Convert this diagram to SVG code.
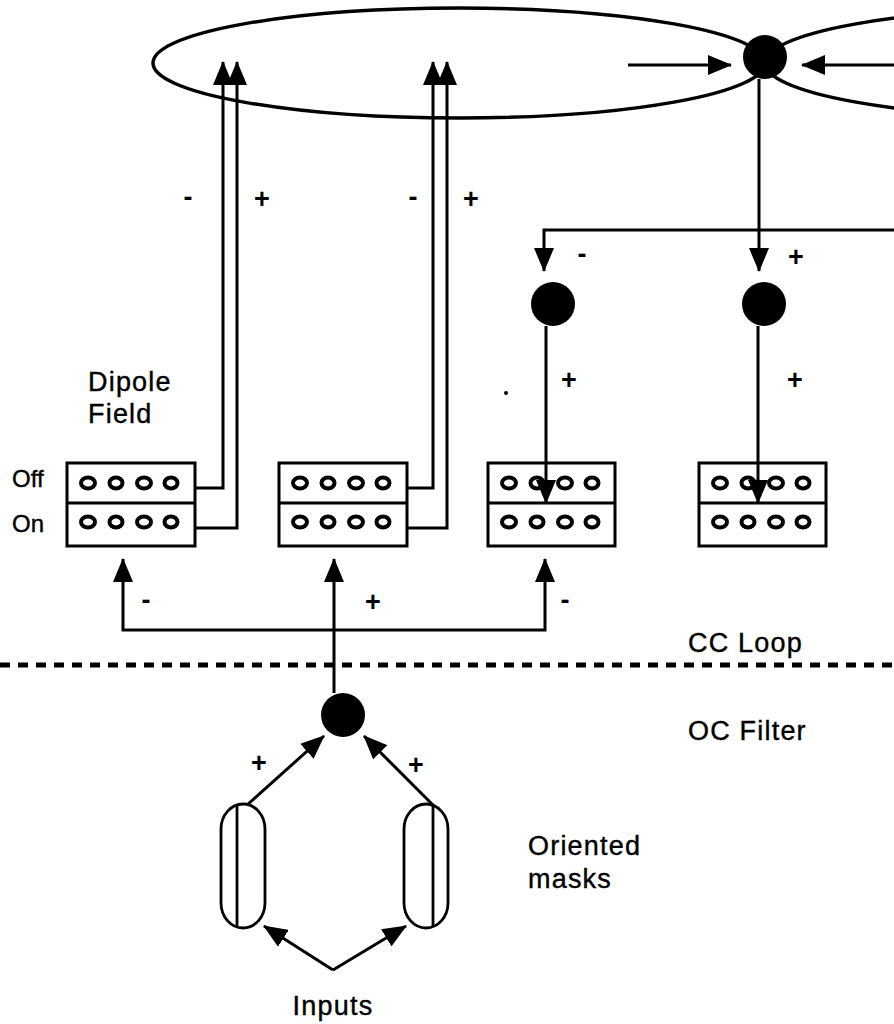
<svg xmlns="http://www.w3.org/2000/svg" width="894" height="1024" viewBox="0 0 894 1024">
<style>
.lbl{font-family:"Liberation Sans",Arial,sans-serif;font-size:27px;fill:#000;stroke:#000;stroke-width:0.4;letter-spacing:1.2px}
.sm{font-family:"Liberation Sans",Arial,sans-serif;font-size:24px;fill:#000;stroke:#000;stroke-width:0.4}
.sign{font-family:"Liberation Sans",Arial,sans-serif;font-size:27px;font-weight:bold;fill:#000;text-anchor:middle}
.box{fill:#fff;stroke:#000;stroke-width:3}
.cell{fill:#fff;stroke:#000;stroke-width:4}
.dot{fill:#000}
.ell{fill:none;stroke:#000;stroke-width:3.5}
.mask{fill:#fff;stroke:#000;stroke-width:2.8}
.ln{fill:none;stroke:#000;stroke-width:3}
.arr{fill:none;stroke:#000;stroke-width:3;marker-end:url(#ah)}
</style>
<defs>
<marker id="ah" markerUnits="userSpaceOnUse" markerWidth="24" markerHeight="20" refX="23" refY="10" orient="auto">
<path d="M0,0 L24,10 L0,20 z" fill="#000"/>
</marker>
<g id="cells">
<ellipse cx="21" cy="20" rx="7" ry="5.5" class="cell"/>
<ellipse cx="49" cy="20" rx="6.5" ry="5.5" class="cell"/>
<ellipse cx="77" cy="20" rx="7" ry="5.5" class="cell"/>
<ellipse cx="104" cy="20" rx="6.5" ry="5.5" class="cell"/>
<ellipse cx="21" cy="59" rx="7" ry="5.5" class="cell"/>
<ellipse cx="49" cy="59" rx="6.5" ry="5.5" class="cell"/>
<ellipse cx="77" cy="59" rx="7" ry="5.5" class="cell"/>
<ellipse cx="104" cy="59" rx="6.5" ry="5.5" class="cell"/>
</g>
</defs>
<rect width="894" height="1024" fill="#fff"/>

<g id="loops">
<ellipse cx="459" cy="63" rx="306" ry="55" class="ell"/>
<ellipse cx="1071" cy="63" rx="306" ry="55" class="ell"/>
</g>

<g id="node-top"><circle cx="765" cy="57" r="22" class="dot"/></g>
<g id="node-minus"><circle cx="553" cy="304" r="22" class="dot"/></g>
<g id="node-plus"><circle cx="764" cy="304" r="22" class="dot"/></g>
<g id="node-oc"><circle cx="343" cy="715" r="22" class="dot"/></g>

<g id="box1">
<rect x="67" y="463" width="128" height="83" class="box"/>
<line x1="67" y1="503" x2="195" y2="503" class="ln"/>
<use href="#cells" x="67" y="463"/>
</g>
<g id="box2">
<rect x="279" y="463" width="128" height="83" class="box"/>
<line x1="279" y1="503" x2="407" y2="503" class="ln"/>
<use href="#cells" x="279" y="463"/>
</g>
<g id="box3">
<rect x="488" y="463" width="127" height="83" class="box"/>
<line x1="488" y1="503" x2="615" y2="503" class="ln"/>
<use href="#cells" x="488" y="463"/>
</g>
<g id="box4">
<rect x="699" y="463" width="127" height="83" class="box"/>
<line x1="699" y1="503" x2="826" y2="503" class="ln"/>
<use href="#cells" x="699" y="463"/>
</g>

<g id="mask-left">
<rect x="221" y="804" width="44" height="124" rx="22" ry="25" class="mask"/>
<line x1="237" y1="805" x2="237" y2="927" class="mask"/>
</g>
<g id="mask-right">
<rect x="404" y="804" width="44" height="124" rx="22" ry="25" class="mask"/>
<line x1="433" y1="805" x2="433" y2="927" class="mask"/>
</g>

<g id="connectors">
<path d="M628,65 H731" class="arr"/>
<path d="M894,65 H802" class="arr"/>
<path d="M195,488 H223 V62" class="arr"/>
<path d="M195,528 H237 V62" class="arr"/>
<path d="M407,488 H433 V62" class="arr"/>
<path d="M407,528 H447 V62" class="arr"/>
<path d="M759,79 V271" class="arr"/>
<path d="M894,230 H544 V271" class="arr"/>
<path d="M546,326 V503" class="arr"/>
<path d="M758,326 V503" class="arr"/>
<path d="M334,693 V559" class="arr"/>
<path d="M334,630 H123 V559" class="arr"/>
<path d="M334,630 H545 V559" class="arr"/>
<path d="M247,805 L324,736" class="arr"/>
<path d="M433,805 L364,736" class="arr"/>
<path d="M333,970 L264,926" class="arr"/>
<path d="M333,970 L406,926" class="arr"/>
<line x1="0" y1="665" x2="894" y2="665" stroke="#000" stroke-width="5" stroke-dasharray="10 8"/>
</g>

<g id="labels">
<text x="88" y="391" class="lbl">Dipole</text>
<text x="88" y="423" class="lbl">Field</text>
<text x="12" y="487" class="sm">Off</text>
<text x="12" y="532" class="sm">On</text>
<text x="688" y="652" class="lbl">CC Loop</text>
<text x="688" y="740" class="lbl">OC Filter</text>
<text x="528" y="855" class="lbl">Oriented</text>
<text x="528" y="888" class="lbl">masks</text>
<text x="333" y="1015" class="lbl" text-anchor="middle">Inputs</text>
<ellipse cx="506" cy="393" rx="2" ry="2" fill="#000"/>
</g>

<g id="signs">
<text x="188" y="206" class="sign">-</text>
<text x="262" y="208" class="sign">+</text>
<text x="413" y="206" class="sign">-</text>
<text x="471" y="208" class="sign">+</text>
<text x="582" y="263" class="sign">-</text>
<text x="796" y="266" class="sign">+</text>
<text x="569" y="389" class="sign">+</text>
<text x="795" y="389" class="sign">+</text>
<text x="146" y="609" class="sign">-</text>
<text x="373" y="611" class="sign">+</text>
<text x="565" y="609" class="sign">-</text>
<text x="259" y="772" class="sign">+</text>
<text x="416" y="774" class="sign">+</text>
</g>
</svg>
